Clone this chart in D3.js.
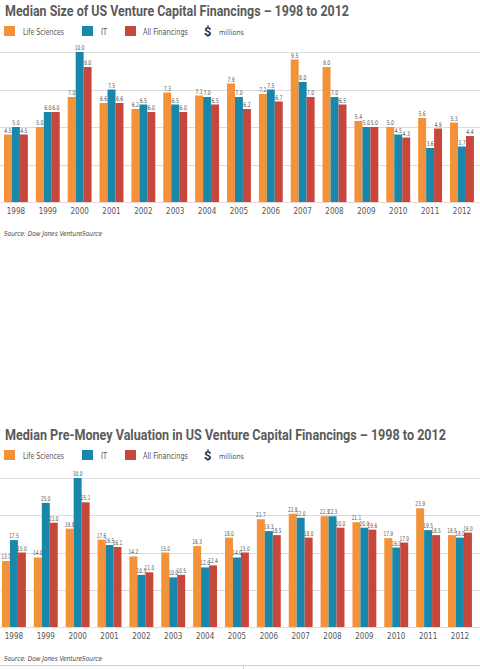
<!DOCTYPE html>
<html>
<head>
<meta charset="utf-8">
<script src="https://cdn.jsdelivr.net/npm/d3@7"></script>
<style>
  body { margin: 0; background: #fff; }
  svg { display: block; }
  text { font-family: "Liberation Sans Narrow", "DejaVu Sans Condensed", "Roboto", sans-serif; }
</style>
</head>
<body>
<svg id="chart" width="480" height="669"></svg>
<script>
const years = ["1998","1999","2000","2001","2002","2003","2004","2005","2006","2007","2008","2009","2010","2011","2012"];
const seriesNames = ["Life Sciences", "IT", "All Financings"];
const colors = ["#f4923a", "#1987aa", "#c8473c"];

// Median size, $ millions
const sizeLife = [4.5, 5.0, 7.0, 6.6, 6.2, 7.3, 7.1, 7.9, 7.2, 9.5, 9.0, 5.4, 5.0, 5.6, 5.3];
const sizeIT   = [5.0, 6.0, 10.0, 7.5, 6.5, 6.5, 7.0, 7.0, 7.5, 8.0, 7.0, 5.0, 4.5, 3.6, 3.7];
const sizeAll  = [4.5, 6.0, 9.0, 6.6, 6.0, 6.0, 6.5, 6.2, 6.7, 7.0, 6.5, 5.0, 4.3, 4.9, 4.4];
const sizeTicks = [0, 2.5, 5, 7.5, 10];

// Median pre-money valuation, $ millions
const valLife = [13.3, 14.0, 19.8, 17.6, 14.2, 15.0, 16.3, 18.0, 21.7, 22.8, 22.3, 21.1, 17.9, 23.9, 18.5];
const valIT   = [17.5, 25.0, 30.0, 16.5, 10.5, 10.0, 12.0, 14.0, 19.3, 22.0, 22.3, 20.0, 16.0, 19.5, 18.0];
const valAll  = [15.0, 21.0, 25.1, 16.1, 11.0, 10.5, 12.4, 15.0, 18.5, 18.0, 20.0, 19.6, 17.0, 18.5, 19.0];
const valTicks = [0, 7.5, 15, 22.5, 30];

const svg = d3.select("#chart");

function drawPanel(opt) {
  const g = svg.append("g");

  // title
  g.append("text")
    .attr("x", 5).attr("y", opt.top + 16)
    .attr("textLength", opt.titleWidth).attr("lengthAdjust", "spacingAndGlyphs")
    .style("font-family", "Roboto, 'Liberation Sans', sans-serif")
    .style("font-weight", "bold").style("font-size", "14px").style("fill", "#5a5a5c")
    .text(opt.title);

  // legend
  const ly = opt.top + 26;
  const legendItems = [
    {sw: 4, tx: 23, tw: 41},
    {sw: 82, tx: 101, tw: 6},
    {sw: 125, tx: 143, tw: 45}
  ];
  legendItems.forEach((d, i) => {
    g.append("rect").attr("x", d.sw).attr("y", ly).attr("width", 11).attr("height", 10).attr("fill", colors[i]);
    g.append("text").attr("x", d.tx).attr("y", ly + 8.5)
      .attr("textLength", d.tw).attr("lengthAdjust", "spacingAndGlyphs")
      .style("font-size", "8px").style("fill", "#555")
      .text(seriesNames[i]);
  });
  g.append("text").attr("x", 204).attr("y", ly + 10)
    .style("font-family", "Roboto, sans-serif").style("font-weight", "bold")
    .style("font-size", "13px").style("fill", "#333").text("$");
  g.append("text").attr("x", 219).attr("y", ly + 9)
    .attr("textLength", 25).attr("lengthAdjust", "spacingAndGlyphs")
    .style("font-size", "7.5px").style("fill", "#555").text("millions");

  const x0 = d3.scaleBand().domain(years).range([opt.xStart, opt.xStart + 31.86 * 15]).paddingInner(0.25).paddingOuter(0.125);
  const x1 = d3.scaleBand().domain(d3.range(3)).range([0, x0.bandwidth()]);
  const y = d3.scaleLinear().domain([0, opt.max]).range([opt.base, opt.yTop]);

  // gridlines
  g.append("g").selectAll("line").data(opt.ticks.slice(1)).join("line")
    .attr("x1", 0).attr("x2", 480)
    .attr("y1", d => Math.round(y(d)) + 0.5).attr("y2", d => Math.round(y(d)) + 0.5)
    .attr("stroke", "#dcdcdc").attr("stroke-width", 1);

  const series = [opt.life, opt.it, opt.all];
  const rows = [];
  years.forEach((yr, i) => series.forEach((s, k) => rows.push({yr, k, v: s[i]})));

  g.append("g").selectAll("rect").data(rows).join("rect")
    .attr("x", d => x0(d.yr) + x1(d.k))
    .attr("width", x1.bandwidth())
    .attr("y", d => y(d.v))
    .attr("height", d => y(0) - y(d.v))
    .attr("fill", d => colors[d.k]);

  g.append("g").selectAll("text").data(rows).join("text")
    .attr("x", d => x0(d.yr) + x1(d.k) + x1.bandwidth() / 2 - (d.v >= 10 ? 4.8 : 3.6))
    .attr("y", d => y(d.v) - 2)
    .attr("textLength", d => d.v >= 10 ? 9.6 : 7.2)
    .attr("lengthAdjust", "spacingAndGlyphs")
    .style("font-size", "6.5px").style("fill", "#555")
    .text(d => d.v.toFixed(1));

  // baseline
  g.append("line").attr("x1", 0).attr("x2", 480)
    .attr("y1", opt.base + 0.5).attr("y2", opt.base + 0.5)
    .attr("stroke", "#f0d4d4").attr("stroke-width", 1);

  // year axis
  const axis = g.append("g").attr("transform", `translate(0,${opt.base})`)
    .call(d3.axisBottom(x0).tickSize(0).tickPadding(6));
  axis.select(".domain").remove();
  axis.selectAll("text")
    .style("font-family", "'Liberation Sans Narrow', 'DejaVu Sans Condensed', sans-serif")
    .style("font-size", "8px").style("fill", "#555");

  // source
  g.append("text").attr("x", 4).attr("y", opt.base + 34)
    .attr("textLength", 98).attr("lengthAdjust", "spacingAndGlyphs")
    .style("font-size", "7px").style("font-style", "italic").style("fill", "#444")
    .text("Source: Dow Jones VentureSource");
}

drawPanel({
  top: 0, title: "Median Size of US Venture Capital Financings \u2013 1998 to 2012", titleWidth: 344,
  life: sizeLife, it: sizeIT, all: sizeAll, ticks: sizeTicks, max: 10,
  base: 202, yTop: 52, xStart: 0
});

drawPanel({
  top: 424, title: "Median Pre-Money Valuation in US Venture Capital Financings \u2013 1998 to 2012", titleWidth: 441,
  life: valLife, it: valIT, all: valAll, ticks: valTicks, max: 30,
  base: 627, yTop: 478, xStart: -2
});

// bottom rule
svg.append("line").attr("x1", 0).attr("x2", 480).attr("y1", 665.5).attr("y2", 665.5)
  .attr("stroke", "#cfcfcf");
svg.append("line").attr("x1", 243.5).attr("x2", 243.5).attr("y1", 665).attr("y2", 669)
  .attr("stroke", "#cfcfcf");
</script>
</body>
</html>
